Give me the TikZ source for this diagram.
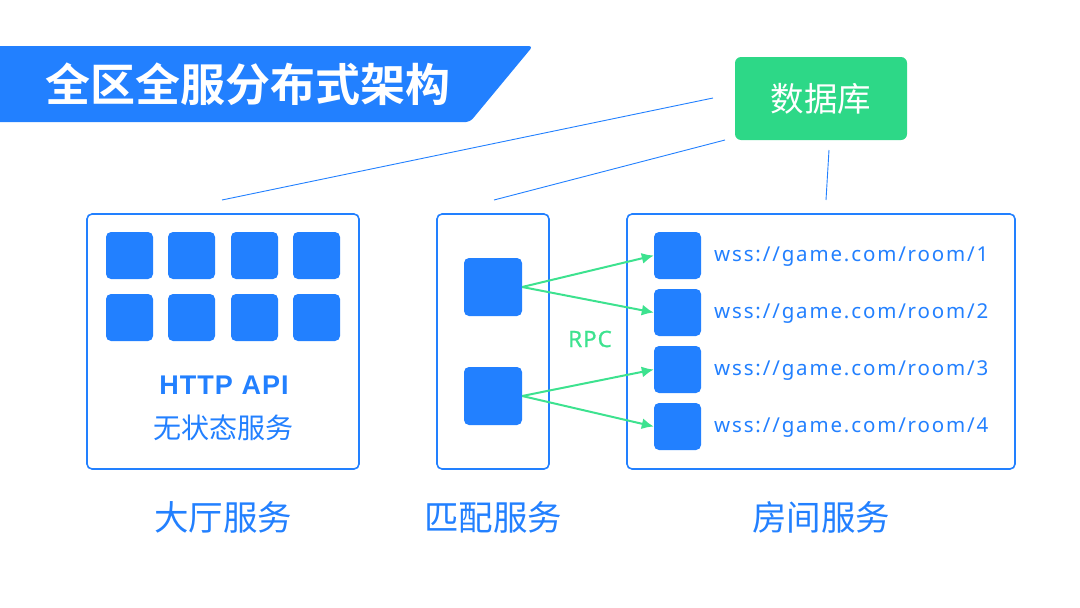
\documentclass[tikz,border=0pt]{standalone}
\usepackage{fontspec}
\setmainfont{Noto Sans}
\newfontfamily\cjk{Noto Sans CJK SC}
\newfontfamily\cjkb{Noto Sans CJK SC Bold}
\newfontfamily\latb{Liberation Sans}[LetterSpace=4]
\newfontfamily\rpcf{Noto Sans}[LetterSpace=4,FakeBold=0.8]
\newfontfamily\wssf{Noto Sans}[LetterSpace=9]
\usetikzlibrary{arrows.meta}
\definecolor{bl}{HTML}{2280FF}
\definecolor{gr}{HTML}{2DD887}
\definecolor{ar}{HTML}{3DE28F}
\tikzset{
  panel/.style={draw=bl,line width=1.6pt,rounded corners=5pt,fill=white},
  cell/.style={fill=bl,rounded corners=5pt,inner sep=0pt,draw=none},
  link/.style={draw=bl,line width=0.9pt},
  rpc/.style={draw=ar,line width=2pt,-{Latex[length=12pt,width=11pt]}},
  lbl/.style={text=bl,font=\cjk\fontsize{34.5}{38}\selectfont,inner sep=0pt},
  wss/.style={text=bl,font=\wssf\fontsize{20.5}{24}\selectfont,anchor=west,inner sep=0pt}
}
\begin{document}
\begin{tikzpicture}[x=1pt,y=-1pt]
\useasboundingbox (0,0) rectangle (1080,608);
% title banner
\fill[bl,rounded corners=4pt] (-10,46) -- (533,46) -- (470,122) -- (-10,122) -- cycle;
\node[text=white,font=\cjkb\fontsize{45}{50}\selectfont,anchor=west,inner sep=0pt] (title) at (45,84) {全区全服分布式架构};
% database
\node[fill=gr,rounded corners=6pt,minimum width=172pt,minimum height=83pt,text=white,font=\cjk\fontsize{33.5}{36}\selectfont] (db) at (821,98.5) {数据库};
% panels
\node[panel,minimum width=272pt,minimum height=255pt] (lobby) at (223,341.5) {};
\node[panel,minimum width=112pt,minimum height=255pt] (match) at (493,341.5) {};
\node[panel,minimum width=388pt,minimum height=255pt] (room) at (821,341.5) {};
% connection lines
\coordinate (c1) at (222,200);
\coordinate (c2) at (494,200);
\coordinate (c3) at (826,200);
\coordinate (d1) at (713,98);
\coordinate (d2) at (725,140);
\coordinate (d3) at (829,150);
\draw[link] (d1) -- (c1);
\draw[link] (d2) -- (c2);
\draw[link] (d3) -- (c3);
% lobby cells
\foreach \i/\x in {1/129.5,2/191.5,3/254.5,4/316.5}{
  \node[cell,minimum size=47pt] (la\i) at (\x,255.5) {};
  \node[cell,minimum size=47pt] (lb\i) at (\x,317.5) {};
}
\node[text=bl,font=\latb\bfseries\fontsize{27}{30}\selectfont,inner sep=0pt] (http) at (224,385) {HTTP API};
\node[text=bl,font=\cjk\fontsize{28}{32}\selectfont,inner sep=0pt] (stateless) at (223,428) {无状态服务};
% match cells
\node[cell,minimum size=58pt] (m1) at (493,287) {};
\node[cell,minimum size=58pt] (m2) at (493,396) {};
% room cells
\foreach \i/\y in {1/255.5,2/312.5,3/369.5,4/426.5}{
  \node[cell,minimum size=47pt] (r\i) at (677.5,\y) {};
  \node[wss] (w\i) at (714,\y+1) {wss://game.com/room/\i};
}
% rpc arrows
\draw[rpc] (m1.east) -- (r1.west);
\draw[rpc] (m1.east) -- (r2.west);
\draw[rpc] (m2.east) -- (r3.west);
\draw[rpc] (m2.east) -- (r4.west);
\node[text=ar,font=\rpcf\fontsize{22.5}{26}\selectfont,inner sep=0pt] (rpcl) at (590,339) {RPC};
% bottom labels
\node[lbl] (l1) at (223,517) {大厅服务};
\node[lbl] (l2) at (493,517) {匹配服务};
\node[lbl] (l3) at (821,517) {房间服务};
\end{tikzpicture}
\end{document}
